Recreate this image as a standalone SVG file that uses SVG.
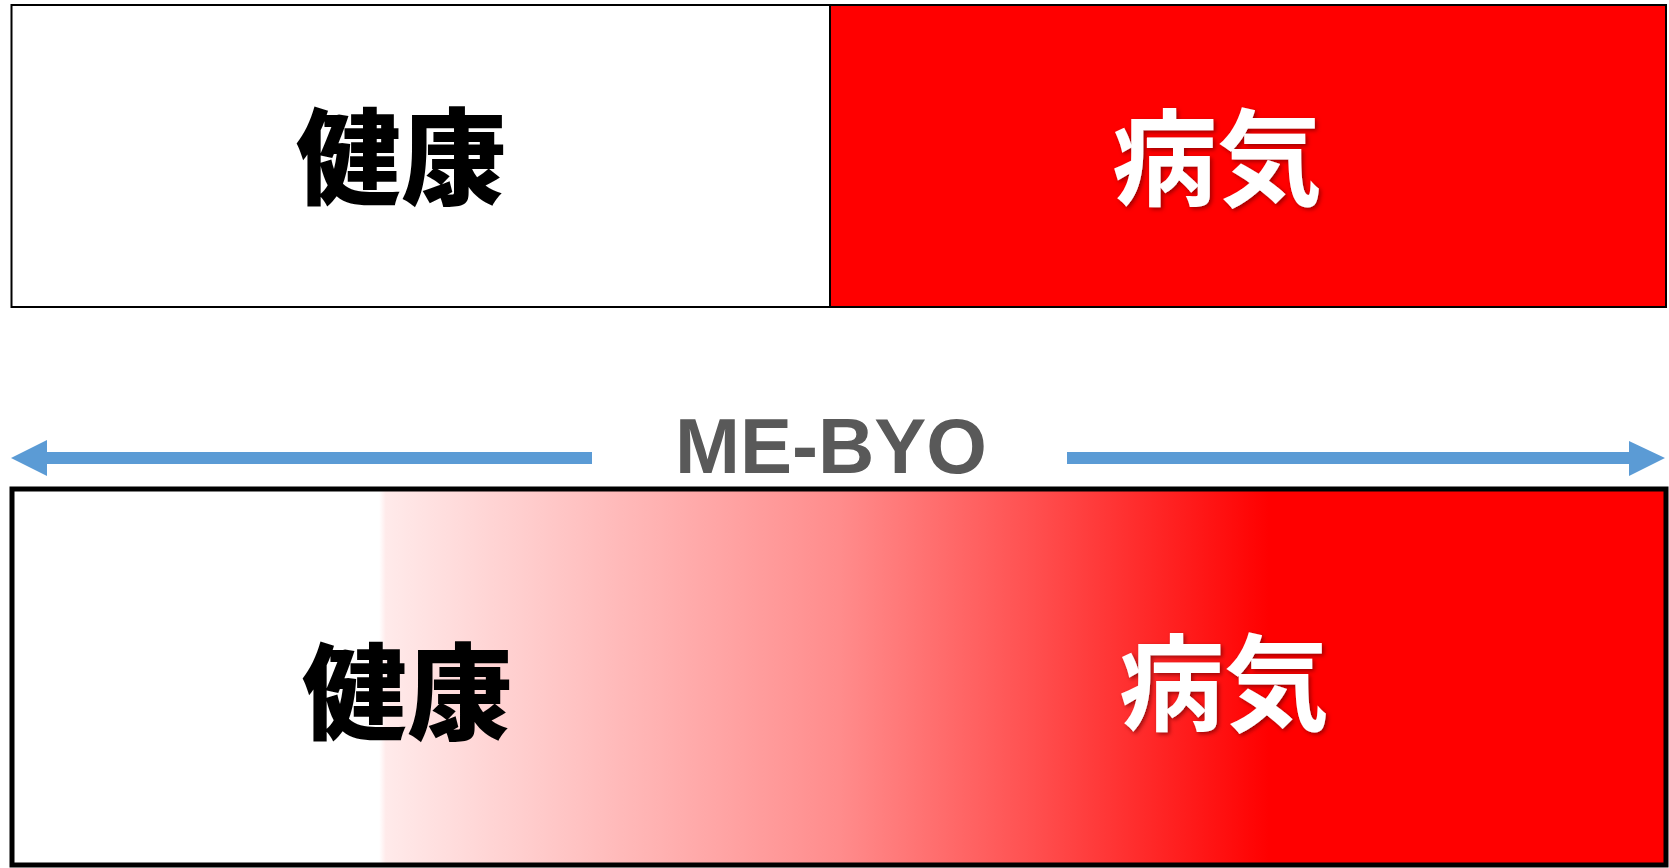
<svg xmlns="http://www.w3.org/2000/svg" width="1669" height="868" viewBox="0 0 1669 868">
<style>
.jp{font-family:"Noto Sans CJK JP","Noto Sans CJK SC",sans-serif;font-size:105px;text-anchor:middle}
.dark{font-weight:900;fill:#000}
.light{font-weight:700;fill:#fff;filter:url(#sh)}
.arr{fill:#5b9bd5}
</style>
<defs>
<linearGradient id="g" x1="12" y1="0" x2="1666" y2="0" gradientUnits="userSpaceOnUse">
<stop offset="0.222" stop-color="#ffffff"/>
<stop offset="0.226" stop-color="#ffeaea"/>
<stop offset="0.36" stop-color="#ffbcbc"/>
<stop offset="0.50" stop-color="#ff8c8c"/>
<stop offset="0.62" stop-color="#ff4e4e"/>
<stop offset="0.76" stop-color="#ff0000"/>
</linearGradient>
<filter id="sh" x="-10%" y="-10%" width="130%" height="130%">
<feDropShadow dx="2" dy="2" stdDeviation="2" flood-color="#700000" flood-opacity="0.7"/>
</filter>
</defs>
<g id="top-healthy">
<rect x="11.5" y="5" width="818.5" height="302" fill="#fff" stroke="#000" stroke-width="2"/>
<text class="jp dark" x="401" y="196">健康</text>
</g>
<g id="top-sick">
<rect x="830" y="5" width="836" height="302" fill="#ff0000" stroke="#000" stroke-width="2"/>
<text class="jp light" x="1217" y="197">病気</text>
</g>
<g id="mebyo-label">
<text x="831" y="473" font-family="Liberation Sans, Arial, sans-serif" font-weight="bold" font-size="78" fill="#595959" text-anchor="middle">ME-BYO</text>
</g>
<g id="connectors">
<polygon class="arr" points="11,458 47,440 47,452 592,452 592,464 47,464 47,476"/>
<polygon class="arr" points="1067,452 1629,452 1629,441 1665,458 1629,476 1629,464 1067,464"/>
</g>
<g id="bottom-spectrum">
<rect x="12" y="489" width="1654" height="376" fill="url(#g)" stroke="#000" stroke-width="5"/>
<text class="jp dark" x="407" y="731">健康</text>
<text class="jp light" x="1224" y="722">病気</text>
</g>
</svg>
